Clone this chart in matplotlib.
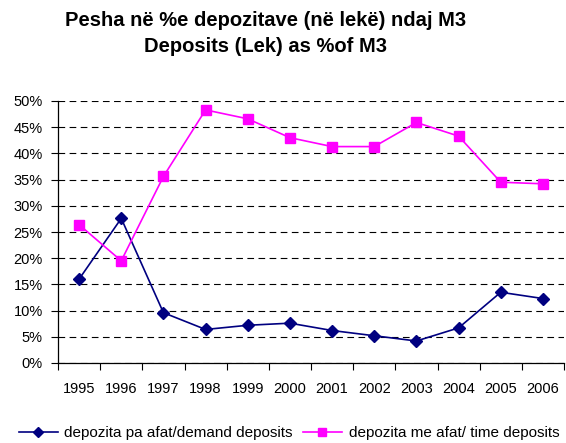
import numpy as np
import matplotlib
matplotlib.use("Agg")
import matplotlib.pyplot as plt
from matplotlib.ticker import FuncFormatter, FixedLocator

plt.rcParams['font.family'] = ['Liberation Sans', 'DejaVu Sans']

years = ['1995', '1996', '1997', '1998', '1999', '2000',
         '2001', '2002', '2003', '2004', '2005', '2006']
demand = [16.0, 27.6, 9.6, 6.4, 7.2, 7.6, 6.2, 5.2, 4.2, 6.7, 13.5, 12.3]
time_dep = [26.4, 19.5, 35.6, 48.3, 46.6, 43.0, 41.3, 41.3, 45.9, 43.3, 34.5, 34.2]

fig = plt.figure(figsize=(5.66, 4.43), dpi=100)
ax = fig.add_axes([58 / 566, 1 - 363 / 443, 506 / 566, 262 / 443])

x = np.arange(len(years))
ax.plot(x, demand, color='#000080', marker='D', markersize=6, lw=1.2,
        label='depozita pa afat/demand deposits')
ax.plot(x, time_dep, color='#FF00FF', marker='s', markersize=7, lw=1.2,
        label='depozita me afat/ time deposits')

ax.set_xlim(-0.5, len(years) - 0.5)
ax.set_ylim(0, 50)
ax.set_yticks(np.arange(0, 51, 5))
ax.yaxis.set_major_formatter(FuncFormatter(lambda v, p: f'{v:.0f}%'))
ax.yaxis.grid(True, color='black', linestyle=(0, (6, 4)), lw=0.8)
ax.set_axisbelow(True)

# ticks between categories, labels centred on them
ax.xaxis.set_major_locator(FixedLocator(np.arange(-0.5, len(years), 1)))
ax.xaxis.set_major_formatter(FuncFormatter(lambda v, p: ''))
ax.xaxis.set_minor_locator(FixedLocator(x))
ax.set_xticklabels(years, minor=True)
ax.tick_params(axis='x', which='major', length=5, direction='out', width=0.8)
ax.tick_params(axis='x', which='minor', length=0, pad=14, labelsize=10.5)
ax.tick_params(axis='y', length=5, direction='out', width=0.8, labelsize=10.5,
               pad=6)

for s in ['top', 'right']:
    ax.spines[s].set_visible(False)
for s in ['left', 'bottom']:
    ax.spines[s].set_linewidth(0.9)

fig.text(266 / 566, 1 - 21 / 443, 'Pesha në %e depozitave (në lekë) ndaj M3',
         ha='center', va='center', fontsize=14.5, fontweight='bold')
fig.text(266 / 566, 1 - 46 / 443, 'Deposits (Lek) as %of M3',
         ha='center', va='center', fontsize=14.5, fontweight='bold')

fig.legend(loc='center', bbox_to_anchor=(289 / 566, 1 - 433 / 443), ncol=2,
           frameon=False, fontsize=11, handlelength=2.55, columnspacing=0.65,
           handletextpad=0.45, borderaxespad=0, borderpad=0, markerscale=0.85)

fig.savefig('out.png', dpi=100)
